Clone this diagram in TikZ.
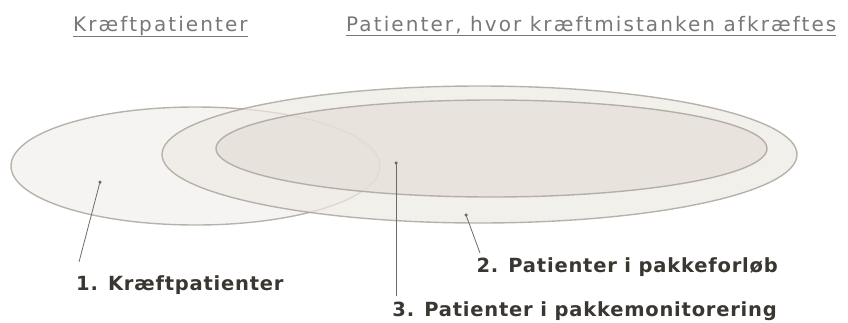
\documentclass[tikz,border=0pt]{standalone}
\usepackage{fontspec}
\newfontfamily\titlefont[LetterSpace=10.5]{DejaVu Sans}
\newfontfamily\labelfont[LetterSpace=4]{DejaVu Sans Bold}
\definecolor{edge}{HTML}{A8A198}
\definecolor{fillA}{HTML}{F2F0EC}
\definecolor{fillB}{HTML}{EDE9E3}
\definecolor{fillC}{HTML}{E4DED8}
\definecolor{titlegray}{HTML}{7A7876}
\definecolor{labeldark}{HTML}{3A3631}
\definecolor{leader}{HTML}{6E6A66}
\tikzset{
  setbox/.style={draw=edge, line width=1.4pt, draw opacity=0.8, fill opacity=0.7},
  titletext/.style={inner sep=0pt, anchor=base west, text=titlegray, font=\titlefont\fontsize{20}{23}\selectfont},
  labeltext/.style={inner sep=0pt, text=labeldark, font=\labelfont\fontsize{19.5}{22}\selectfont},
  leaderline/.style={draw=leader, line width=0.8pt},
  dotmark/.style={circle, fill=leader, inner sep=0pt, minimum size=3.5pt}
}
\begin{document}
\begin{tikzpicture}[x=1pt, y=-1pt]
\useasboundingbox (0,0) rectangle (848,322);
% sets
\path[setbox, fill=fillA] (195.5,166) ellipse [x radius=184.5, y radius=59];
\path[setbox, fill=fillB] (479.5,154.5) ellipse [x radius=317.5, y radius=68.5];
\path[setbox, fill=fillC] (491.5,148.5) ellipse [x radius=275.5, y radius=48.5];
% titles
\node[titletext] (t1) at (73,31) {\underline{Kræftpatienter}};
\node[titletext] (t2) at (346,31) {\underline{Patienter, hvor kræftmistanken afkræftes}};
% dots
\node[dotmark] (d1) at (100,182) {};
\node[dotmark] (d2) at (466,215) {};
\node[dotmark] (d3) at (396,163) {};
% labels
\node[labeltext, anchor=base west] (l1) at (76,290) {1. Kræftpatienter};
\node[labeltext, anchor=base east] (l2) at (778,272) {2. Patienter i pakkeforløb};
\node[labeltext, anchor=base east] (l3) at (777,316) {3. Patienter i pakkemonitorering};
% leader ends
\coordinate (e1) at (79,262);
\coordinate (e2) at (480,253);
\coordinate (e3) at (396,296);
\draw[leaderline] (d1.center) -- (e1);
\draw[leaderline] (d2.center) -- (e2);
\draw[leaderline] (d3.center) -- (e3);
\end{tikzpicture}
\end{document}
